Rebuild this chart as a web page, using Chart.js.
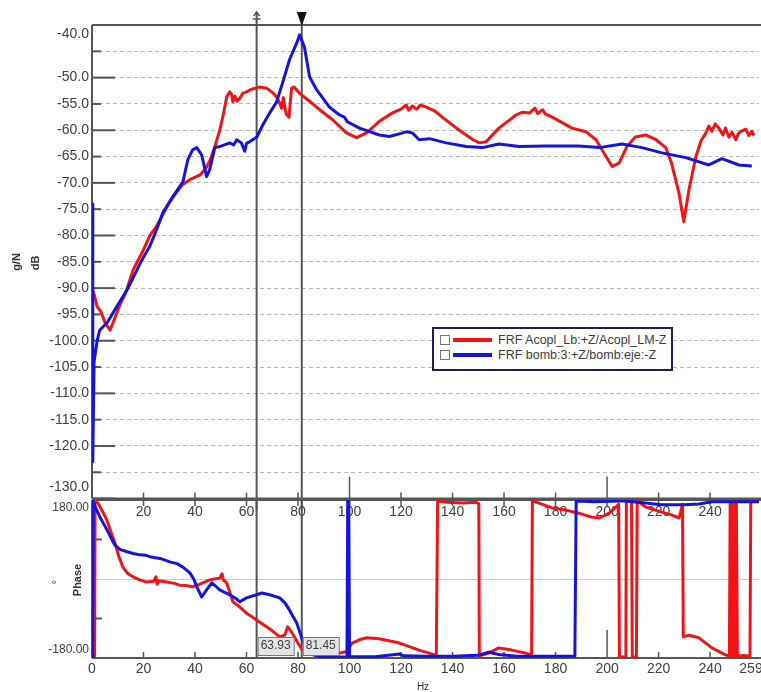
<!DOCTYPE html>
<html>
<head>
<meta charset="utf-8">
<script src="https://cdn.jsdelivr.net/npm/chart.js@4.4.0/dist/chart.umd.min.js"></script>
<style>
  body { margin: 0; background: #fff; width: 761px; height: 692px; overflow: hidden; position: relative; font-family: "Liberation Sans", Arial, sans-serif; }
  canvas { position: absolute; left: 0; }
  #mag { top: 0; }
  #phase { top: 480px; }
  #legend { position: absolute; left: 432px; top: 327px; width: 237px; height: 40px; border: 2px solid #1e1e50; background: #fff; z-index: 5; }
  #legend .row { position: absolute; left: 0; height: 14px; width: 100%; }
  #legend .cb { position: absolute; left: 6px; top: 2px; width: 8px; height: 8px; border: 1px solid #777; background: #fff; }
  #legend .ln { position: absolute; left: 19px; top: 5px; width: 39px; height: 4px; }
  #legend .tx { position: absolute; left: 64px; top: 0; line-height: 14px; font-size: 12.5px; color: #3c3c3c; white-space: nowrap; }
</style>
</head>
<body>
<canvas id="mag" width="761" height="510"></canvas>
<canvas id="phase" width="761" height="212"></canvas>
<div id="legend"></div>
<script>
const RED = '#f01414';
const BLUE = '#1414dc';
const FONT = '"Liberation Sans", Arial, sans-serif';
const TXT = '#404040';
const AXIS = '#555555';

const seriesNames = ['FRF Acopl_Lb:+Z/Acopl_LM-Z', 'FRF bomb:3:+Z/bomb:eje:-Z'];
const cursorHz = [63.93, 81.45];
const freqRange = [0, 259];
const magRange = [-130, -40];
const phaseRange = [-180, 180];

// magnitude, red trace (Hz / dB)
const redMagHz = [
  0, 1, 2, 3.5, 5, 7, 9, 11, 13, 16,
  20, 22.5, 25, 27.5, 30, 32.5, 35, 38, 42, 44.5,
  46, 47.7, 49.6, 51, 52.3, 53.5, 54.2, 54.7, 55.5, 56.3,
  57.4, 58.5, 60, 62, 65, 67.8, 70, 71.7, 73, 73.6,
  74.3, 75, 75.5, 76.5, 77.5, 78.5, 80.6, 84, 88.4, 93.4,
  98.8, 102.7, 106.6, 111.6, 116.7, 120, 122, 123, 124.4, 126,
  127.5, 129.8, 133, 136, 142.6, 148, 150.4, 153, 158, 164.7,
  167, 170, 172, 173, 175, 176, 178.7, 186.4, 191.9, 195.7,
  199.6, 202, 204.7, 207.7, 211, 215, 219, 222.8, 225, 227.9,
  229.8, 231.8, 234.5, 236.5, 238.4, 239.5, 240.7, 242, 243.4, 245,
  246, 247.3, 248.5, 250, 251, 252, 253.9, 255, 256.2, 257
];
const redMagDb = [
  -90, -91.5, -93.5, -94.5, -96.5, -98, -95.5, -93, -91, -86.5,
  -82.7, -80, -78.3, -76, -73.8, -72, -70.4, -69.4, -68.5, -67,
  -65.5, -63.1, -60, -57, -53.7, -52.7, -53.2, -54.6, -53.5, -54.5,
  -53.9, -53, -52.7, -52.2, -51.8, -52, -52.8, -53.7, -55, -55.8,
  -53.8, -56, -57, -57.5, -52, -51.8, -53, -54.3, -56.1, -58,
  -60.5, -61.4, -60.5, -58.3, -56.7, -56, -55.2, -56.2, -55.4, -56,
  -55.2, -55.6, -56.3, -57.5, -60, -61.8, -62.4, -62.2, -59.6, -57.1,
  -56.6, -56.7, -55.8, -56.8, -56.1, -56.9, -57.5, -59.6, -60.3, -61.8,
  -65, -66.9, -66.2, -63.1, -61.3, -60.9, -61.8, -63.3, -66.2, -71.9,
  -77.4, -71.3, -65, -62, -60.5, -59.2, -60.2, -58.8, -59.6, -60.9,
  -59.6, -61.3, -60.4, -61.8, -60.6, -60.2, -59.8, -61, -60.2, -61
];

// magnitude, blue trace (Hz / dB)
const blueMagHz = [
  0, 0.3, 0.8, 2, 3, 6, 9, 14, 19, 22.5,
  25, 27.5, 31.4, 35.3, 37.2, 39.1, 40.7, 42.6, 44.5, 45.7,
  47.7, 49.6, 53.5, 55, 56.2, 58, 59.3, 60, 61.2, 64,
  66.3, 69, 71.7, 74, 76.7, 79.5, 80.6, 82.5, 84.5, 87.2,
  92.2, 96.1, 98, 99.2, 103.9, 111.6, 115.5, 120, 122, 124.4,
  127, 131, 137.6, 145.3, 151.6, 158, 165.9, 176.4, 189, 197,
  205.8, 213.6, 221.3, 230.6, 239.5, 244.6, 251.2, 256.2
];
const blueMagDb = [
  -74, -123, -104, -100, -98, -96.5, -94, -90, -85, -82,
  -79, -75.7, -72.6, -69.8, -65.6, -63.7, -63.3, -64.7, -68.8, -67.5,
  -63.3, -63.1, -62.4, -62.8, -61.8, -62.4, -64, -62.5, -62.2, -61.3,
  -59, -56.7, -54.6, -51, -46.6, -43.4, -41.9, -44.2, -49.9, -52.3,
  -55.6, -57.1, -57.5, -58.4, -59.6, -60.9, -61.2, -60.6, -60.3, -60.5,
  -61.8, -61.6, -62.4, -63.1, -63.3, -62.6, -63.1, -63, -63, -63.3,
  -62.6, -63.3, -64.3, -65.2, -66.6, -65.4, -66.6, -66.8
];

// phase, red trace (Hz / degrees)
const redPhHz = [
  0, 1.0, 1.2, 2.3, 4, 5.8, 7.5, 8.9, 10.5, 12,
  14, 16, 18.5, 21.3, 24, 24.8, 25.3, 26, 29, 32,
  34, 36.5, 39, 41, 43, 45.7, 47.5, 49.6, 50.5, 51,
  52.3, 53.5, 54.7, 57, 60, 62.4, 65, 67.8, 70, 72.9,
  74.8, 76, 77.5, 79.8, 81.5, 84, 90, 95, 99, 101,
  104, 106.6, 111.6, 119.4, 127, 133.7, 134.2, 137.6, 143.8, 149,
  150.2, 150.4, 154, 158, 163, 168.6, 170.7, 171, 172.5, 178.7,
  184, 189, 194, 197, 200.8, 203.5, 204.5, 204.8, 207.3, 207.5,
  209.5, 209.8, 211.4, 211.7, 215, 221, 225, 228, 229.3, 229.6,
  231.8, 235.7, 240.7, 246, 247.5, 247.8, 248.2, 248.6, 249, 249.4,
  249.8, 250.2, 250.6, 253, 255.5, 255.8, 259
];
const redPhDeg = [
  -175, -178, 178, 173, 155, 134, 105, 82, 50, 27,
  12, 5, -2, -7, -5, 5, -12, -4, -7, -10,
  -14, -15, -18, -14, -9, -2, 0, 2, 12, -2,
  -9, -30, -52, -62, -78, -87, -98, -109, -118, -132,
  -128, -109, -121, -144, -160, -165, -168, -170, -165, -146,
  -138, -134, -136, -146, -162, -174, 178, 175, 173, 175,
  172, -175, -169, -157, -162, -169, -174, 178, 175, 162,
  157, 150, 141, 139, 150, 164, 170, -178, -178, 178,
  176, -178, -178, 178, 164, 153, 146, 139, 170, -132,
  -128, -134, -157, -173, -176, 178, -176, 178, -176, 178,
  -176, 178, -176, -174, -176, 178, 178
];

// phase, blue trace (Hz / degrees)
const bluePhHz = [
  0, 0.2, 0.5, 1.2, 3.1, 5.8, 8.9, 11, 13.6, 16,
  18.6, 21, 23, 25.2, 27, 30.2, 33, 35.3, 38, 39.5,
  40.7, 42.6, 44.5, 46.5, 48, 49.6, 53.5, 56, 57.4, 60,
  63.9, 66, 69, 72.9, 75, 76.7, 78, 79.5, 81.4, 82.5,
  84, 88, 94, 99, 99.3, 99.7, 100, 110, 119.4, 121,
  130, 140, 150, 154, 158, 165, 175, 187.5, 188, 195,
  205, 210, 215, 221, 230, 235.7, 240.7, 250, 259
];
const bluePhDeg = [
  178, -178, 178, 165, 141, 112, 77, 67, 62, 58,
  55, 54, 50, 48, 46, 39, 35, 27, 14, 0,
  -18, -41, -25, -9, -16, -25, -36, -45, -52, -43,
  -36, -32, -36, -43, -55, -71, -85, -100, -134, -155,
  -170, -176, -178, -177, 178, 178, -177, -177, -171, -175,
  -176, -176, -174, -167, -172, -176, -176, -176, 178, 176,
  178, 176, 173, 169, 169, 171, 176, 176, 176
];

function pts(xs, ys) {
  return xs.map((x, i) => ({ x: x, y: ys[i] }));
}

function seg(ctx, x1, y1, x2, y2) {
  ctx.beginPath();
  ctx.moveTo(x1, y1);
  ctx.lineTo(x2, y2);
  ctx.stroke();
}

function vtext(ctx, s, x, y, font) {
  ctx.save();
  ctx.translate(x, y);
  ctx.rotate(-Math.PI / 2);
  ctx.font = font;
  ctx.textAlign = 'center';
  ctx.textBaseline = 'middle';
  ctx.fillText(s, 0, 0);
  ctx.restore();
}

function lineSet(label, data, color) {
  return {
    label: label,
    data: data,
    borderColor: color,
    backgroundColor: color,
    borderWidth: 3,
    pointRadius: 0,
    tension: 0,
    borderJoinStyle: 'round'
  };
}

// ticks, borders, cursors of the magnitude panel
const magDecor = {
  id: 'magDecor',
  beforeDatasetsDraw(chart) {
    const { ctx, chartArea: a, scales: { x, y } } = chart;
    ctx.save();
    ctx.strokeStyle = AXIS;
    ctx.lineWidth = 2;
    for (let v = magRange[0]; v <= magRange[1]; v += 5) {
      const py = y.getPixelForValue(v);
      seg(ctx, a.left, py, a.left + (v % 10 === 0 ? 23 : 9), py);
    }
    ctx.lineWidth = 1.5;
    for (let f = 20; f < freqRange[1]; f += 20) {
      const px = x.getPixelForValue(f);
      seg(ctx, px, a.bottom, px, a.bottom - (f % 100 === 0 ? 22 : 6));
    }
    ctx.lineWidth = 2;
    seg(ctx, a.left, a.top, chart.width, a.top);
    seg(ctx, a.left, a.top, a.left, a.bottom);
    seg(ctx, a.left, a.bottom, chart.width, a.bottom);
    cursorHz.forEach(c => {
      const px = x.getPixelForValue(c);
      seg(ctx, px, 12, px, chart.height);
    });
    ctx.restore();
  },
  afterDatasetsDraw(chart) {
    const { ctx, chartArea: a, scales: { x, y } } = chart;
    ctx.save();
    // cursor heads
    const p0 = x.getPixelForValue(cursorHz[0]);
    ctx.strokeStyle = AXIS;
    ctx.lineWidth = 1.5;
    ctx.beginPath();
    ctx.moveTo(p0 - 3, 16); ctx.lineTo(p0, 12); ctx.lineTo(p0 + 3, 16);
    ctx.stroke();
    seg(ctx, p0 - 4, 19, p0 + 4, 19);
    const p1 = x.getPixelForValue(cursorHz[1]);
    ctx.fillStyle = '#111';
    ctx.beginPath();
    ctx.moveTo(p1 - 5, 12); ctx.lineTo(p1 + 5, 12); ctx.lineTo(p1, 26);
    ctx.closePath();
    ctx.fill();
    // end labels, pulled inside the panel
    ctx.fillStyle = TXT;
    ctx.font = '14px ' + FONT;
    ctx.textAlign = 'right';
    ctx.textBaseline = 'middle';
    ctx.fillText(magRange[1].toFixed(1), a.left - 3, y.getPixelForValue(magRange[1]) + 9);
    ctx.fillText(magRange[0].toFixed(1), a.left - 3, y.getPixelForValue(magRange[0]) - 11);
    // axis title
    ctx.fillStyle = '#333';
    vtext(ctx, 'g/N', 17, 262, 'bold 11px ' + FONT);
    vtext(ctx, 'dB', 36, 263, 'bold 11px ' + FONT);
    ctx.restore();
  }
};

// ticks, inner labels, cursors of the phase panel
const phaseDecor = {
  id: 'phaseDecor',
  beforeDatasetsDraw(chart) {
    const { ctx, chartArea: a, scales: { x, y } } = chart;
    ctx.save();
    ctx.fillStyle = TXT;
    ctx.font = '14px ' + FONT;
    ctx.textAlign = 'center';
    ctx.textBaseline = 'middle';
    ctx.strokeStyle = AXIS;
    ctx.lineWidth = 1.5;
    for (let f = 20; f < freqRange[1]; f += 20) {
      const px = x.getPixelForValue(f);
      ctx.fillText(String(f), px, a.top + 12);
      seg(ctx, px, a.top, px, a.top + 6);
      seg(ctx, px, a.bottom, px, a.bottom - (f % 100 === 0 ? 28 : 6));
    }
    ctx.lineWidth = 2;
    [-90, 90].forEach(v => {
      const py = y.getPixelForValue(v);
      seg(ctx, a.left, py, a.left + 10, py);
    });
    seg(ctx, a.left, a.top, chart.width, a.top);
    seg(ctx, a.left, a.top, a.left, a.bottom);
    seg(ctx, a.left, a.bottom, chart.width, a.bottom);
    cursorHz.forEach(c => {
      const px = x.getPixelForValue(c);
      seg(ctx, px, a.top, px, a.bottom);
    });
    ctx.restore();
  },
  afterDatasetsDraw(chart) {
    const { ctx, chartArea: a, scales: { x, y } } = chart;
    ctx.save();
    // cursor readouts
    ctx.font = '12px ' + FONT;
    ctx.textAlign = 'center';
    ctx.textBaseline = 'middle';
    cursorHz.forEach(c => {
      const px = x.getPixelForValue(c);
      const s = c.toFixed(2);
      const w = ctx.measureText(s).width + 6;
      ctx.fillStyle = '#e4e4e4';
      ctx.fillRect(px + 1, a.bottom - 21, w, 18);
      ctx.strokeStyle = '#777';
      ctx.lineWidth = 1;
      ctx.strokeRect(px + 1.5, a.bottom - 20.5, w, 18);
      ctx.fillStyle = TXT;
      ctx.fillText(s, px + 1 + w / 2, a.bottom - 12);
    });
    // end labels
    ctx.textAlign = 'right';
    ctx.fillText(phaseRange[1].toFixed(2), a.left - 3, y.getPixelForValue(phaseRange[1]) + 8);
    ctx.fillText(phaseRange[0].toFixed(2), a.left - 3, y.getPixelForValue(phaseRange[0]) - 8);
    // last frequency label, kept inside the page
    ctx.font = '14px ' + FONT;
    ctx.textAlign = 'center';
    ctx.fillText(String(freqRange[1]), x.getPixelForValue(freqRange[1]) - 8, a.bottom + 11);
    // titles
    ctx.fillStyle = '#333';
    ctx.font = '10px ' + FONT;
    ctx.fillText('Hz', 423, a.bottom + 29);
    vtext(ctx, 'Phase', 78, 100, 'bold 11px ' + FONT);
    vtext(ctx, '°', 58, 102, '12px ' + FONT);
    ctx.restore();
  }
};

const magChart = new Chart(document.getElementById('mag'), {
  type: 'line',
  data: {
    datasets: [
      lineSet(seriesNames[1], pts(blueMagHz, blueMagDb), BLUE),
      lineSet(seriesNames[0], pts(redMagHz, redMagDb), RED)
    ]
  },
  options: {
    responsive: false,
    animation: false,
    events: [],
    layout: { padding: { top: 25, right: 2, bottom: 11, left: 0 } },
    plugins: { legend: { display: false }, tooltip: { enabled: false } },
    scales: {
      x: { type: 'linear', min: freqRange[0], max: freqRange[1], display: false },
      y: {
        min: magRange[0],
        max: magRange[1],
        afterFit: s => { s.width = 92; },
        ticks: {
          stepSize: 5,
          autoSkip: false,
          padding: 3,
          color: TXT,
          font: { family: FONT, size: 14 },
          callback: v => (v === -45 || v === -125 || v === magRange[0] || v === magRange[1]) ? '' : v.toFixed(1)
        },
        grid: { color: '#b8b8b8', lineWidth: 1, drawTicks: false },
        border: { display: false, dash: [4, 3] }
      }
    }
  },
  plugins: [magDecor]
});

const phaseChart = new Chart(document.getElementById('phase'), {
  type: 'line',
  data: {
    datasets: [
      lineSet(seriesNames[1], pts(bluePhHz, bluePhDeg), BLUE),
      lineSet(seriesNames[0], pts(redPhHz, redPhDeg), RED)
    ]
  },
  options: {
    responsive: false,
    animation: false,
    events: [],
    layout: { padding: { top: 20, right: 2, bottom: 0, left: 0 } },
    plugins: { legend: { display: false }, tooltip: { enabled: false } },
    scales: {
      x: {
        type: 'linear',
        min: freqRange[0],
        max: freqRange[1],
        afterFit: s => { s.height = 34; s.paddingRight = 0; s.paddingLeft = 0; },
        ticks: {
          stepSize: 20,
          autoSkip: false,
          maxRotation: 0,
          padding: 3,
          color: TXT,
          font: { family: FONT, size: 14 },
          callback: v => v === freqRange[1] ? '' : String(v)
        },
        grid: { display: false, drawTicks: false },
        border: { display: false }
      },
      y: {
        min: phaseRange[0],
        max: phaseRange[1],
        afterFit: s => { s.width = 92; },
        ticks: { stepSize: 90, display: false },
        grid: { color: c => c.tick.value === 0 ? '#cccccc' : 'rgba(0,0,0,0)', drawTicks: false },
        border: { display: false }
      }
    }
  },
  plugins: [phaseDecor]
});

// legend box, same order as the reference
const legendEl = document.getElementById('legend');
[[seriesNames[0], RED], [seriesNames[1], BLUE]].forEach((item, i) => {
  const row = document.createElement('div');
  row.className = 'row';
  row.style.top = (4 + i * 15) + 'px';
  row.innerHTML = '<span class="cb"></span><span class="ln" style="background:' + item[1] + '"></span><span class="tx"></span>';
  row.querySelector('.tx').textContent = item[0];
  legendEl.appendChild(row);
});
</script>
</body>
</html>
